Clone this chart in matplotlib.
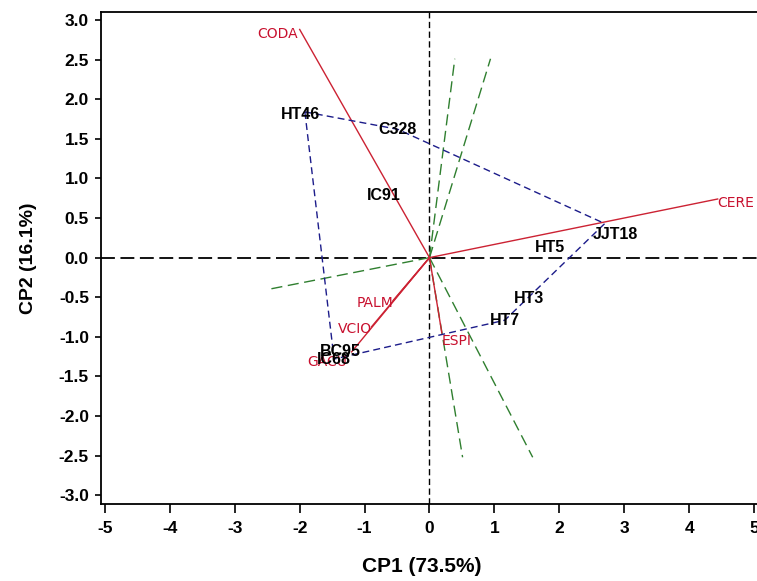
import matplotlib
matplotlib.use("Agg")
import matplotlib.pyplot as plt

# ---------------- data ----------------
gen_names = ["HT46", "C328", "IC91", "JJT18", "HT5", "HT3", "HT7", "BC95", "IC68"]
gen_pc1 = [-1.92, -0.49, -0.71, 2.70, 1.86, 1.54, 1.16, -1.38, -1.47]
gen_pc2 = [1.84, 1.62, 0.78, 0.43, 0.13, -0.51, -0.79, -1.18, -1.28]
hull_names = ["HT46", "C328", "JJT18", "HT7", "IC68"]

env_names = ["CODA", "CERE", "ESPI", "PALM", "VCIO", "GACU"]
env_pc1 = [-2.00, 4.44, 0.19, -0.56, -0.89, -1.20]
env_pc2 = [2.88, 0.74, -0.95, -0.54, -0.87, -1.19]

ray_pc1 = [0.39, 0.94, 0.51, 1.59, -2.48]
ray_pc2 = [2.51, 2.51, -2.52, -2.52, -0.40]

x_ticks = [-5, -4, -3, -2, -1, 0, 1, 2, 3, 4, 5]
y_ticks = [-3.0, -2.5, -2.0, -1.5, -1.0, -0.5, 0.0, 0.5, 1.0, 1.5, 2.0, 2.5, 3.0]
x_label = "CP1 (73.5%)"
y_label = "CP2 (16.1%)"

# ---------------- style ----------------
plt.rcParams["lines.scale_dashes"] = False
plt.rcParams["axes.unicode_minus"] = False
plt.rcParams["font.family"] = ["Liberation Sans", "DejaVu Sans"]

RED = "#cc2233"
RED_TXT = "#c8102e"
BLUE = "#1c1c8a"
GREEN = "#2f7f2f"

# label offsets in points (genotypes)
gen_offsets = {"HT46": (-3.5, -2.0), "JJT18": (8.0, -8.0)}
# env label offsets (points) and alignment
env_style = {
    "CODA": ("right", (-1, -3)),
    "CERE": ("left", (0, -3)),
    "ESPI": ("left", (0, -6)),
    "PALM": ("right", (0, -2)),
    "VCIO": ("right", (0, -1.5)),
    "GACU": ("right", (-3, -7)),
}

fig = plt.figure(figsize=(7.57, 5.81), dpi=100)
ax = fig.add_axes([0.1330, 0.1325, 0.867, 0.8468])
ax.set_xlim(-5.066, 5.046)
ax.set_ylim(-3.11, 3.10)

# zero reference lines
ax.axhline(0, color="black", lw=1.3, dashes=(10, 4), zorder=1)
ax.axvline(0, color="black", lw=1.0, dashes=(4.5, 2.5), zorder=1)

# green rays perpendicular to polygon sides
for x, y in zip(ray_pc1, ray_pc2):
    ax.plot([0, x], [0, y], color=GREEN, lw=1.0, dashes=(8, 4), zorder=2)

# environment vectors
for x, y in zip(env_pc1, env_pc2):
    ax.plot([0, x], [0, y], color=RED, lw=1.0, zorder=3)

# polygon
idx = [gen_names.index(n) for n in hull_names] + [gen_names.index(hull_names[0])]
ax.plot([gen_pc1[i] for i in idx], [gen_pc2[i] for i in idx],
        color=BLUE, lw=1.0, dashes=(5, 3), zorder=4)

# genotype labels
for n, x, y in zip(gen_names, gen_pc1, gen_pc2):
    off = gen_offsets.get(n, (0, 0))
    ax.annotate(n, (x, y), xytext=off, textcoords="offset points",
                ha="center", va="center", fontsize=11.5, fontweight="bold",
                color="black", zorder=6)

# environment labels
for n, x, y in zip(env_names, env_pc1, env_pc2):
    ha, off = env_style[n]
    ax.annotate(n, (x, y), xytext=off, textcoords="offset points",
                ha=ha, va="center", fontsize=10, family="DejaVu Sans",
                color=RED_TXT, zorder=5, annotation_clip=False)

# axes styling
ax.spines["right"].set_visible(False)
for s in ["left", "bottom", "top"]:
    ax.spines[s].set_linewidth(1.3)
ax.set_xticks(x_ticks)
ax.set_xticklabels([str(v) for v in x_ticks])
ax.set_yticks(y_ticks)
ax.set_yticklabels(["%.1f" % v for v in y_ticks])
ax.tick_params(axis="x", direction="out", length=6.5, width=1.2, pad=6, labelsize=12.5)
ax.tick_params(axis="y", direction="out", length=4.5, width=1.2, pad=4, labelsize=12.5)
for lab in ax.get_xticklabels() + ax.get_yticklabels():
    lab.set_fontweight("bold")

ax.set_xlabel(x_label, fontsize=15, fontweight="bold")
ax.set_ylabel(y_label, fontsize=14, fontweight="bold")
ax.xaxis.set_label_coords(0.4896, -0.108)
ax.yaxis.set_label_coords(-0.097, 0.5)

fig.savefig("out.png", dpi=100)
